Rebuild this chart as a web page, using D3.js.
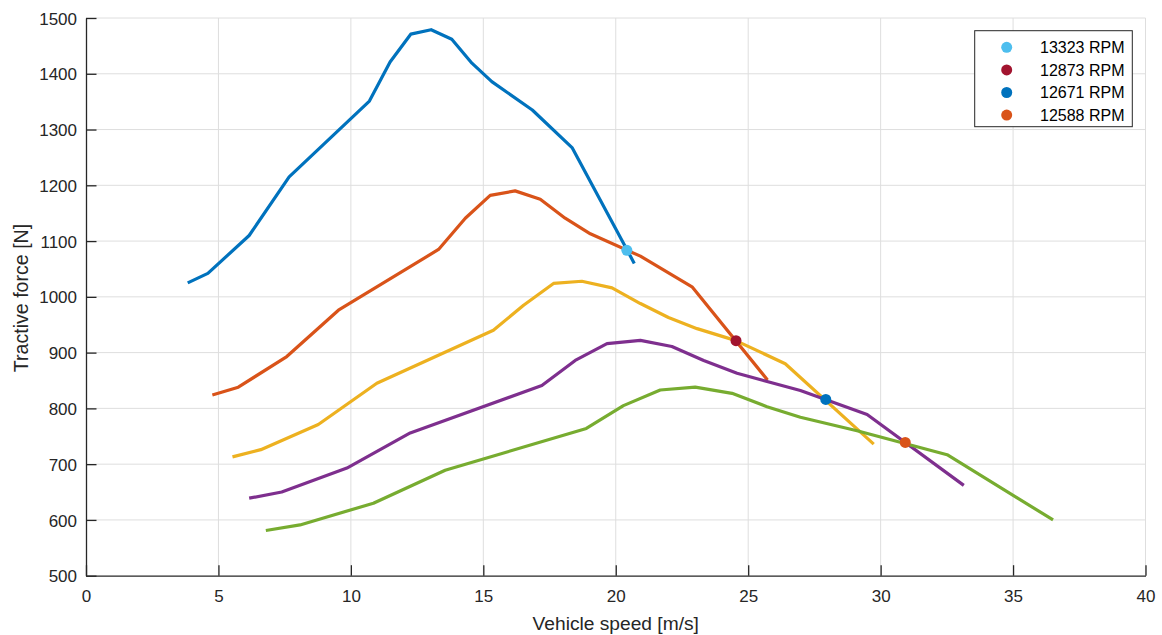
<!DOCTYPE html>
<html>
<head>
<meta charset="utf-8">
<script src="https://cdn.jsdelivr.net/npm/d3@7"></script>
<style>
  html, body { margin: 0; padding: 0; background: #fff; }
  svg { display: block; font-family: "Liberation Sans", Arial, Helvetica, sans-serif; }
</style>
</head>
<body>
<svg id="chart" width="1162" height="635"></svg>
<script>
// Tractive force vs vehicle speed, one curve per gear, with shift points.
const xTicks = [0, 5, 10, 15, 20, 25, 30, 35, 40];
const yTicks = [500, 600, 700, 800, 900, 1000, 1100, 1200, 1300, 1400, 1500];

const gear1Speed = [3.84, 4.60, 6.16, 7.67, 10.70, 11.48, 12.26, 13.03, 13.81, 14.57, 15.32, 16.85, 18.36, 20.70];
const gear1Force = [1025, 1042, 1110, 1215, 1351, 1421, 1471, 1479, 1462, 1419, 1386, 1335, 1267, 1060];

const gear2Speed = [4.77, 5.75, 7.58, 9.53, 13.31, 14.32, 15.26, 16.20, 17.15, 18.09, 19.04, 20.93, 22.88, 25.73];
const gear2Force = [824, 838, 893, 976, 1085, 1141, 1182, 1190, 1175, 1141, 1113, 1073, 1018, 851];

const gear3Speed = [5.53, 6.60, 8.77, 10.98, 15.38, 16.52, 17.65, 18.72, 19.86, 20.93, 21.99, 23.07, 24.51, 26.40, 29.74];
const gear3Force = [713, 726, 771, 845, 940, 985, 1024, 1028, 1016, 988, 963, 943, 922, 880, 736];

const gear4Speed = [6.16, 7.39, 9.85, 12.24, 17.21, 18.47, 19.67, 20.93, 22.12, 23.32, 24.58, 26.97, 29.49, 33.14];
const gear4Force = [639, 650, 693, 756, 841, 886, 916, 922, 911, 886, 863, 832, 789, 662];

const gear5Speed = [6.79, 8.08, 10.85, 13.56, 18.89, 20.29, 21.68, 23.00, 24.39, 25.71, 26.97, 29.11, 32.51, 36.51];
const gear5Force = [581, 591, 630, 689, 764, 805, 833, 838, 827, 803, 784, 760, 717, 600];

const lineColors = ["#0072BD", "#D95319", "#EDB120", "#7E2F8E", "#77AC30"];

// Shift points (where consecutive gear curves cross)
const shiftLabels = ["13323 RPM", "12873 RPM", "12671 RPM", "12588 RPM"];
const shiftSpeed = [20.42, 24.54, 27.93, 30.93];
const shiftForce = [1083.5, 921.5, 816, 739];
const shiftColors = ["#4DBEEE", "#A2142F", "#0072BD", "#D95319"];

const svg = d3.select("#chart");
const plotLeft = 86, plotRight = 1145.5, plotTop = 18, plotBottom = 575.7;
const textColor = "#262626";

const x = d3.scaleLinear().domain([0, 40]).range([plotLeft, plotRight]);
const y = d3.scaleLinear().domain([500, 1500]).range([plotBottom, plotTop]);

// Grid
const grid = svg.append("g").attr("stroke", "#dedede").attr("stroke-width", 1);
grid.selectAll("line.vx").data(xTicks.slice(1)).join("line")
  .attr("x1", d => x(d)).attr("x2", d => x(d))
  .attr("y1", plotTop).attr("y2", plotBottom);
grid.selectAll("line.hy").data(yTicks.slice(1)).join("line")
  .attr("x1", plotLeft).attr("x2", plotRight)
  .attr("y1", d => y(d)).attr("y2", d => y(d));

// Axes with inward ticks
const xAxis = svg.append("g").attr("transform", `translate(0,${plotBottom})`)
  .call(d3.axisBottom(x).tickValues(xTicks).tickFormat(d3.format("d")).tickSize(-10.5).tickSizeOuter(0));
const yAxis = svg.append("g").attr("transform", `translate(${plotLeft},0)`)
  .call(d3.axisLeft(y).tickValues(yTicks).tickFormat(d3.format("d")).tickSize(-10.5).tickSizeOuter(0));

[xAxis, yAxis].forEach(g => {
  g.select(".domain").attr("stroke", textColor).attr("stroke-width", 1.3);
  g.selectAll(".tick line").attr("stroke", textColor).attr("stroke-width", 1.3);
  g.selectAll(".tick text").attr("fill", textColor)
    .style("font-size", "17px").style("font-family", "'Liberation Sans', Arial, sans-serif");
});
yAxis.selectAll(".tick text").attr("dy", "0.36em").attr("x", -9);
xAxis.selectAll(".tick text").attr("dy", "0.71em").attr("y", 14);

// Axis titles
svg.append("text").attr("x", (plotLeft + plotRight) / 2).attr("y", 630)
  .attr("text-anchor", "middle").attr("fill", textColor).style("font-size", "19.2px")
  .text("Vehicle speed [m/s]");
svg.append("text").attr("transform", `translate(28,298) rotate(-90)`)
  .attr("text-anchor", "middle").attr("fill", textColor).style("font-size", "19.6px")
  .text("Tractive force [N]");

// Curves
const gears = [
  [gear1Speed, gear1Force],
  [gear2Speed, gear2Force],
  [gear3Speed, gear3Force],
  [gear4Speed, gear4Force],
  [gear5Speed, gear5Force]
];
const line = d3.line().x(d => x(d[0])).y(d => y(d[1]));
svg.append("g").selectAll("path").data(gears).join("path")
  .attr("d", g => line(d3.zip(g[0], g[1])))
  .attr("fill", "none")
  .attr("stroke", (g, i) => lineColors[i])
  .attr("stroke-width", 3.2)
  .attr("stroke-linejoin", "round");

// Shift point markers
svg.append("g").selectAll("circle").data(shiftSpeed).join("circle")
  .attr("cx", d => x(d))
  .attr("cy", (d, i) => y(shiftForce[i]))
  .attr("r", 5.5)
  .attr("fill", (d, i) => shiftColors[i]);

// Legend
const lg = svg.append("g");
lg.append("rect").attr("x", 974.7).attr("y", 30.7).attr("width", 157.6).attr("height", 96)
  .attr("fill", "#fff").attr("stroke", textColor).attr("stroke-width", 1);
const rows = lg.selectAll("g.row").data(shiftLabels).join("g")
  .attr("transform", (d, i) => `translate(0,${47.3 + i * 22.6})`);
rows.append("circle").attr("cx", 1006.7).attr("cy", 0).attr("r", 5.5)
  .attr("fill", (d, i) => shiftColors[i]);
rows.append("text").attr("x", 1040).attr("y", 0).attr("dy", "0.36em")
  .attr("fill", "#000").style("font-size", "16px").text(d => d);
</script>
</body>
</html>
